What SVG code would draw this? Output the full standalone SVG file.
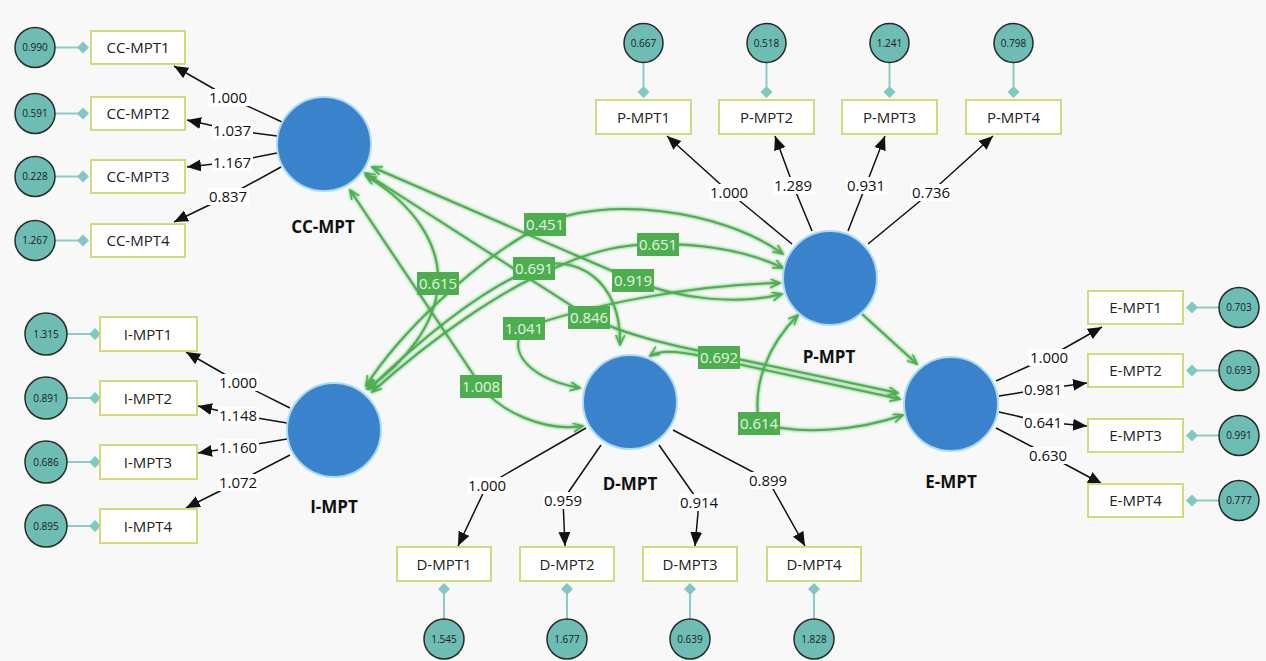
<svg xmlns="http://www.w3.org/2000/svg" width="1266" height="661" viewBox="0 0 1266 661">
<defs>
<style>
text{font-family:"Open Sans","Liberation Sans",sans-serif;text-anchor:middle}
.lat{fill:#3b82cc;stroke:#a8dcf4;stroke-width:2}
.latl{font-size:17px;font-weight:bold;fill:#111}
.ind rect{fill:#fff;stroke:#d3da7c;stroke-width:2}
.ind text{font-size:15px;fill:#222}
.res circle{fill:#6dbdb5;stroke:#2a2a2a;stroke-width:1.5}
.res text{font-size:10px;fill:#1a1a1a}
.rl{stroke:#8fcac5;stroke-width:2}
.dia{fill:#7ecac3}
.load{stroke:#111;stroke-width:1.5;fill:none;marker-end:url(#ah)}
.lw rect{fill:#fff}
.lw text{font-size:15px;fill:#111}
.gp{stroke:#4caf50;stroke-width:2;fill:none}
.b2{marker-start:url(#ga);marker-end:url(#ga)}
.e1{marker-end:url(#ga)}
.gl rect{fill:#4cae4f}
.gl text{font-size:15px;fill:#e6f5e2}
</style>
<marker id="ah" markerUnits="userSpaceOnUse" markerWidth="15" markerHeight="13" refX="14" refY="6" orient="auto"><path d="M0,0 L14,6 L0,12 z" fill="#111"/></marker>
<marker id="ga" markerUnits="userSpaceOnUse" markerWidth="12" markerHeight="10" refX="10" refY="4.5" orient="auto-start-reverse"><path d="M0,0 L10,4.5 L0,9" fill="none" stroke="#4caf50" stroke-width="1.5"/></marker>
<filter id="glow" x="-10%" y="-10%" width="120%" height="120%"><feGaussianBlur in="SourceGraphic" stdDeviation="1.6" result="b"/><feMerge><feMergeNode in="b"/><feMergeNode in="SourceGraphic"/></feMerge></filter>
</defs>
<rect width="1266" height="661" fill="#f8f8f8"/>

<g id="connectors">
<g id="structural" filter="url(#glow)">
<path class="gp b2" d="M366,386 C395,340 470,262 545,224 C600,196 720,208 783,254"/>
<path class="gp b2" d="M372,392 C430,340 500,290 557,267 C590,252 620,244 658,244 C710,244 750,252 783,268"/>
<path class="gp b2" d="M369,389 C420,340 480,290 534,268 C575,252 622,280 620,345"/>
<path class="gp b2" d="M366,176 C415,205 440,245 438,283 C436,325 405,362 367,389"/>
<path class="gp b2" d="M372,167 L633,280 C680,300 740,305 782,294"/>
<path class="gp b2" d="M365,173 L589,317 C625,335 670,345 719,355 L898,393"/>
<path class="gp b2" d="M580,388 C535,380 505,355 524,328 C590,305 690,285 780,283"/>
<path class="gp b2" d="M350,190 L481,386 C500,412 545,432 583,426"/>
<path class="gp b2" d="M650,356 C662,348 685,352 719,360 L900,399"/>
<path class="gp b2" d="M798,315 C768,345 752,385 759,423 C800,436 860,430 903,415"/>
<path class="gp e1" d="M862,314 L917,364"/>
</g>
<g id="loadings">
<path class="load" d="M282,122 L228,97 L174,66"/>
<path class="load" d="M277,136 L232,130 L187,120"/>
<path class="load" d="M277,153 L232,162 L187,167"/>
<path class="load" d="M281,167 L228,196 L174,222"/>
<path class="load" d="M290,408 L238,382 L186,352"/>
<path class="load" d="M287,423 L238,415 L198,406"/>
<path class="load" d="M287,439 L238,447 L198,453"/>
<path class="load" d="M290,455 L238,482 L186,508"/>
<path class="load" d="M792,244 L729,192 L667,136"/>
<path class="load" d="M812,231 L793,185 L775,136"/>
<path class="load" d="M848,231 L866,185 L885,136"/>
<path class="load" d="M868,244 L931,192 L993,136"/>
<path class="load" d="M996,381 L1049,357 L1102,327"/>
<path class="load" d="M999,396 L1043,389 L1087,383"/>
<path class="load" d="M999,412 L1043,422 L1087,426"/>
<path class="load" d="M996,428 L1048,455 L1102,484"/>
<path class="load" d="M586,428 L487,485 L458,546"/>
<path class="load" d="M601,445 L563,500 L565,546"/>
<path class="load" d="M659,445 L699,502 L695,546"/>
<path class="load" d="M673,430 L768,480 L805,546"/>
</g>
<g id="residual-links">
<line class="rl" x1="55" y1="47.5" x2="83" y2="47.5"/><line class="rl" x1="55" y1="113.5" x2="83" y2="113.5"/><line class="rl" x1="55" y1="176.5" x2="83" y2="176.5"/><line class="rl" x1="55" y1="240.5" x2="83" y2="240.5"/>
<line class="rl" x1="67" y1="334" x2="95" y2="334"/><line class="rl" x1="67" y1="398" x2="95" y2="398"/><line class="rl" x1="67" y1="462" x2="95" y2="462"/><line class="rl" x1="67" y1="526" x2="95" y2="526"/>
<line class="rl" x1="643.5" y1="62" x2="643.5" y2="92"/><line class="rl" x1="766.5" y1="62" x2="766.5" y2="92"/><line class="rl" x1="889.5" y1="62" x2="889.5" y2="92"/><line class="rl" x1="1013.5" y1="62" x2="1013.5" y2="92"/>
<line class="rl" x1="1192" y1="307.5" x2="1219" y2="307.5"/><line class="rl" x1="1192" y1="370.5" x2="1219" y2="370.5"/><line class="rl" x1="1192" y1="435.5" x2="1219" y2="435.5"/><line class="rl" x1="1192" y1="500.5" x2="1219" y2="500.5"/>
<line class="rl" x1="444" y1="589" x2="444" y2="619"/><line class="rl" x1="567" y1="589" x2="567" y2="619"/><line class="rl" x1="690" y1="589" x2="690" y2="619"/><line class="rl" x1="814" y1="589" x2="814" y2="619"/>
<g class="dia">
<polygon points="83,41.5 89,47.5 83,53.5 77,47.5"/><polygon points="83,107.5 89,113.5 83,119.5 77,113.5"/><polygon points="83,170.5 89,176.5 83,182.5 77,176.5"/><polygon points="83,234.5 89,240.5 83,246.5 77,240.5"/>
<polygon points="95,328 101,334 95,340 89,334"/><polygon points="95,392 101,398 95,404 89,398"/><polygon points="95,456 101,462 95,468 89,462"/><polygon points="95,520 101,526 95,532 89,526"/>
<polygon points="643.5,86 649.5,92 643.5,98 637.5,92"/><polygon points="766.5,86 772.5,92 766.5,98 760.5,92"/><polygon points="889.5,86 895.5,92 889.5,98 883.5,92"/><polygon points="1013.5,86 1019.5,92 1013.5,98 1007.5,92"/>
<polygon points="1192,301.5 1198,307.5 1192,313.5 1186,307.5"/><polygon points="1192,364.5 1198,370.5 1192,376.5 1186,370.5"/><polygon points="1192,429.5 1198,435.5 1192,441.5 1186,435.5"/><polygon points="1192,494.5 1198,500.5 1192,506.5 1186,500.5"/>
<polygon points="444,583 450,589 444,595 438,589"/><polygon points="567,583 573,589 567,595 561,589"/><polygon points="690,583 696,589 690,595 684,589"/><polygon points="814,583 820,589 814,595 808,589"/>
</g>
</g>
<g id="path-labels" class="gl">
<rect x="524" y="213" width="42" height="23"/><text x="545" y="229.5">0.451</text>
<rect x="637" y="233" width="42" height="23"/><text x="658" y="249.5">0.651</text>
<rect x="513" y="257" width="42" height="23"/><text x="534" y="273.5">0.691</text>
<rect x="417" y="272" width="42" height="23"/><text x="438" y="288.5">0.615</text>
<rect x="612" y="269" width="42" height="23"/><text x="633" y="285.5">0.919</text>
<rect x="568" y="306" width="42" height="23"/><text x="589" y="322.5">0.846</text>
<rect x="503" y="317" width="42" height="23"/><text x="524" y="333.5">1.041</text>
<rect x="460" y="375" width="42" height="23"/><text x="481" y="391.5">1.008</text>
<rect x="698" y="346" width="42" height="23"/><text x="719" y="362.5">0.692</text>
<rect x="738" y="412" width="42" height="23"/><text x="759" y="428.5">0.614</text>
</g>
<g id="loading-labels" class="lw">
<rect x="208" y="89" width="41" height="17"/><text x="228" y="102.5">1.000</text>
<rect x="212" y="122" width="41" height="17"/><text x="232" y="135.5">1.037</text>
<rect x="212" y="154" width="41" height="17"/><text x="232" y="167.5">1.167</text>
<rect x="208" y="188" width="41" height="17"/><text x="228" y="201.5">0.837</text>
<rect x="218" y="374" width="41" height="17"/><text x="238" y="387.5">1.000</text>
<rect x="218" y="407" width="41" height="17"/><text x="238" y="420.5">1.148</text>
<rect x="218" y="439" width="41" height="17"/><text x="238" y="452.5">1.160</text>
<rect x="218" y="474" width="41" height="17"/><text x="238" y="487.5">1.072</text>
<rect x="709" y="184" width="41" height="17"/><text x="729" y="197.5">1.000</text>
<rect x="773" y="177" width="41" height="17"/><text x="793" y="190.5">1.289</text>
<rect x="846" y="177" width="41" height="17"/><text x="866" y="190.5">0.931</text>
<rect x="911" y="184" width="41" height="17"/><text x="931" y="197.5">0.736</text>
<rect x="1029" y="349" width="41" height="17"/><text x="1049" y="362.5">1.000</text>
<rect x="1023" y="381" width="41" height="17"/><text x="1043" y="394.5">0.981</text>
<rect x="1023" y="414" width="41" height="17"/><text x="1043" y="427.5">0.641</text>
<rect x="1028" y="447" width="41" height="17"/><text x="1048" y="460.5">0.630</text>
<rect x="467" y="477" width="41" height="17"/><text x="487" y="490.5">1.000</text>
<rect x="543" y="492" width="41" height="17"/><text x="563" y="505.5">0.959</text>
<rect x="679" y="494" width="41" height="17"/><text x="699" y="507.5">0.914</text>
<rect x="748" y="472" width="41" height="17"/><text x="768" y="485.5">0.899</text>
</g>
</g>

<g id="CC-MPT"><circle class="lat" cx="324" cy="144" r="47"/><text class="latl" x="323" y="233">CC-MPT</text></g>
<g id="I-MPT"><circle class="lat" cx="334" cy="430" r="47"/><text class="latl" x="334" y="513">I-MPT</text></g>
<g id="P-MPT"><circle class="lat" cx="830" cy="278" r="47"/><text class="latl" x="829" y="363">P-MPT</text></g>
<g id="D-MPT"><circle class="lat" cx="630" cy="402" r="47"/><text class="latl" x="630" y="490">D-MPT</text></g>
<g id="E-MPT"><circle class="lat" cx="951" cy="404" r="47"/><text class="latl" x="951" y="488">E-MPT</text></g>

<g id="CC-MPT1" class="ind"><rect x="91" y="31" width="94" height="33"/><text x="138" y="53">CC-MPT1</text></g>
<g id="CC-MPT2" class="ind"><rect x="91" y="97" width="94" height="33"/><text x="138" y="119">CC-MPT2</text></g>
<g id="CC-MPT3" class="ind"><rect x="91" y="160" width="94" height="33"/><text x="138" y="182">CC-MPT3</text></g>
<g id="CC-MPT4" class="ind"><rect x="91" y="224" width="94" height="33"/><text x="138" y="246">CC-MPT4</text></g>
<g id="I-MPT1" class="ind"><rect x="100" y="317" width="97" height="34"/><text x="148" y="339.5">I-MPT1</text></g>
<g id="I-MPT2" class="ind"><rect x="100" y="381" width="97" height="34"/><text x="148" y="403.5">I-MPT2</text></g>
<g id="I-MPT3" class="ind"><rect x="100" y="445" width="97" height="34"/><text x="148" y="467.5">I-MPT3</text></g>
<g id="I-MPT4" class="ind"><rect x="100" y="509" width="97" height="34"/><text x="148" y="531.5">I-MPT4</text></g>
<g id="P-MPT1" class="ind"><rect x="596" y="100" width="95" height="34"/><text x="643.5" y="122.5">P-MPT1</text></g>
<g id="P-MPT2" class="ind"><rect x="719" y="100" width="95" height="34"/><text x="766.5" y="122.5">P-MPT2</text></g>
<g id="P-MPT3" class="ind"><rect x="842" y="100" width="95" height="34"/><text x="889.5" y="122.5">P-MPT3</text></g>
<g id="P-MPT4" class="ind"><rect x="966" y="100" width="95" height="34"/><text x="1013.5" y="122.5">P-MPT4</text></g>
<g id="E-MPT1" class="ind"><rect x="1088" y="291" width="95" height="33"/><text x="1135.5" y="313">E-MPT1</text></g>
<g id="E-MPT2" class="ind"><rect x="1088" y="354" width="95" height="33"/><text x="1135.5" y="376">E-MPT2</text></g>
<g id="E-MPT3" class="ind"><rect x="1088" y="419" width="95" height="33"/><text x="1135.5" y="441">E-MPT3</text></g>
<g id="E-MPT4" class="ind"><rect x="1088" y="484" width="95" height="33"/><text x="1135.5" y="506">E-MPT4</text></g>
<g id="D-MPT1" class="ind"><rect x="397" y="547" width="94" height="34"/><text x="444" y="569.5">D-MPT1</text></g>
<g id="D-MPT2" class="ind"><rect x="520" y="547" width="94" height="34"/><text x="567" y="569.5">D-MPT2</text></g>
<g id="D-MPT3" class="ind"><rect x="643" y="547" width="94" height="34"/><text x="690" y="569.5">D-MPT3</text></g>
<g id="D-MPT4" class="ind"><rect x="767" y="547" width="94" height="34"/><text x="814" y="569.5">D-MPT4</text></g>

<g id="e-CC-MPT1" class="res"><circle cx="35" cy="47.5" r="20"/><text x="35" y="51">0.990</text></g>
<g id="e-CC-MPT2" class="res"><circle cx="35" cy="113.5" r="20"/><text x="35" y="117">0.591</text></g>
<g id="e-CC-MPT3" class="res"><circle cx="35" cy="176.5" r="20"/><text x="35" y="180">0.228</text></g>
<g id="e-CC-MPT4" class="res"><circle cx="35" cy="240.5" r="20"/><text x="35" y="244">1.267</text></g>
<g id="e-I-MPT1" class="res"><circle cx="46" cy="334" r="21"/><text x="46" y="337.5">1.315</text></g>
<g id="e-I-MPT2" class="res"><circle cx="46" cy="398" r="21"/><text x="46" y="401.5">0.891</text></g>
<g id="e-I-MPT3" class="res"><circle cx="46" cy="462" r="21"/><text x="46" y="465.5">0.686</text></g>
<g id="e-I-MPT4" class="res"><circle cx="46" cy="526" r="21"/><text x="46" y="529.5">0.895</text></g>
<g id="e-P-MPT1" class="res"><circle cx="643.5" cy="43" r="19.5"/><text x="643.5" y="46.5">0.667</text></g>
<g id="e-P-MPT2" class="res"><circle cx="766.5" cy="43" r="19.5"/><text x="766.5" y="46.5">0.518</text></g>
<g id="e-P-MPT3" class="res"><circle cx="889.5" cy="43" r="19.5"/><text x="889.5" y="46.5">1.241</text></g>
<g id="e-P-MPT4" class="res"><circle cx="1013.5" cy="43" r="19.5"/><text x="1013.5" y="46.5">0.798</text></g>
<g id="e-E-MPT1" class="res"><circle cx="1239" cy="307.5" r="20"/><text x="1239" y="311">0.703</text></g>
<g id="e-E-MPT2" class="res"><circle cx="1239" cy="370.5" r="20"/><text x="1239" y="374">0.693</text></g>
<g id="e-E-MPT3" class="res"><circle cx="1239" cy="435.5" r="20"/><text x="1239" y="439">0.991</text></g>
<g id="e-E-MPT4" class="res"><circle cx="1239" cy="500.5" r="20"/><text x="1239" y="504">0.777</text></g>
<g id="e-D-MPT1" class="res"><circle cx="444" cy="639" r="20"/><text x="444" y="642.5">1.545</text></g>
<g id="e-D-MPT2" class="res"><circle cx="567" cy="639" r="20"/><text x="567" y="642.5">1.677</text></g>
<g id="e-D-MPT3" class="res"><circle cx="690" cy="639" r="20"/><text x="690" y="642.5">0.639</text></g>
<g id="e-D-MPT4" class="res"><circle cx="814" cy="639" r="20"/><text x="814" y="642.5">1.828</text></g>
</svg>
